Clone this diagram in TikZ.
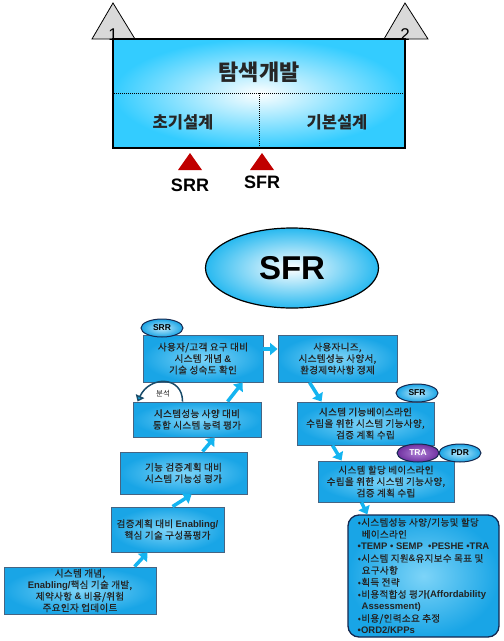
\documentclass[tikz,border=0pt]{standalone}
\usepackage{fontspec}
\setmainfont{Noto Sans CJK KR}
\newfontfamily\ar{Liberation Sans}
\newfontfamily\krs[LetterSpace=4,FakeBold=0.6]{Noto Sans CJK KR}
\usetikzlibrary{arrows.meta,shapes.geometric}
\definecolor{cyo}{RGB}{25,165,230}
\definecolor{cyi}{RGB}{125,212,248}
\definecolor{bord}{RGB}{70,100,130}
\definecolor{txt}{RGB}{35,35,35}
\definecolor{topc}{RGB}{51,204,255}
\definecolor{arr}{RGB}{20,180,240}
\definecolor{redt}{RGB}{192,0,0}
\definecolor{grayt}{RGB}{217,217,217}
\definecolor{navy}{RGB}{20,40,80}
\definecolor{purp}{RGB}{112,48,160}
\definecolor{purpi}{RGB}{175,130,215}
\definecolor{arcc}{RGB}{25,75,105}
\newcommand\en[1]{{\ar\bfseries #1}}
\tikzset{
  stepbox/.style={rectangle, draw=bord, line width=0.9pt, inner color=cyi, outer color=cyo,
    inner sep=0pt, align=center, font=\krs\fontsize{9.5}{11.5}\selectfont, text=txt},
  flow/.style={draw=arr, line width=3.5pt, -{Triangle[length=7.5pt,width=12pt]}},
  tag/.style={ellipse, draw=navy, line width=1pt, inner color=cyi!50!white, outer color=cyo,
    minimum width=42pt, minimum height=18pt, inner sep=0pt,
    font=\ar\bfseries\fontsize{8.5}{10}\selectfont, text=black},
  phase/.style={font=\bfseries\fontsize{16.5}{18}\selectfont, text=black!85},
  rev/.style={font=\ar\bfseries\fontsize{18}{20}\selectfont, text=black},
  dig/.style={font=\ar\fontsize{17}{17}\selectfont, anchor=base, text=black}
}
\begin{document}
\begin{tikzpicture}[x=1pt,y=-1pt]
\useasboundingbox (0,0) rectangle (504,641);
% ---- top section ----
\filldraw[fill=grayt, draw=black, line width=0.8pt] (92,39) -- (113,3) -- (135,39) -- cycle;
\filldraw[fill=grayt, draw=black, line width=0.8pt] (384,39) -- (405,3) -- (428,39) -- cycle;
\node[dig] (n1) at (113,40) {1};
\node[dig] (n2) at (405,40) {2};
\node[draw=black, line width=1.3pt, inner color=white, outer color=topc,
  minimum width=292pt, minimum height=109pt, inner sep=0pt] (tb) at (259,93.5) {};
\coordinate (hl) at ([yshift=-55pt]tb.north west);
\coordinate (hr) at ([yshift=-55pt]tb.north east);
\draw[black, line width=0.8pt, dash pattern=on 1pt off 1pt] (hl) -- (hr);
\draw[black, line width=0.8pt, dash pattern=on 1pt off 1pt] (tb.south |- hl) -- (tb.south);
\node[font=\bfseries\fontsize{22}{24}\selectfont, text=black!85] (t1) at (259,72) {탐색개발};
\node[phase] (t2) at (183,122) {초기설계};
\node[phase] (t3) at (337,122) {기본설계};
\fill[redt] (178,170) -- (190,153) -- (202,170) -- cycle;
\fill[redt] (250,170) -- (262,153) -- (274,170) -- cycle;
\node[rev] (srrl) at (190,185) {SRR};
\node[rev] (sfrl) at (262,182) {SFR};
% ---- big SFR ellipse ----
\node[ellipse, draw=black, line width=1.2pt, inner color=white, outer color={rgb,255:red,40;green,185;blue,240},
  minimum width=173pt, minimum height=80pt] (sfrbig) at (292,268)
  {\ar\bfseries\fontsize{33}{33}\selectfont SFR};
% ---- left column ----
\node[stepbox, minimum width=152pt, minimum height=47pt] (A) at (80,590.5)
  {시스템 개념,\\\en{Enabling/}핵심 기술 개발,\\제약사항 \en{\&} 비용/위험\\주요인자 업데이트};
\node[stepbox, minimum width=113pt, minimum height=45pt] (B) at (167.5,529.5)
  {검증계획 대비 \en{Enabling/}\\핵심 기술 구성품평가};
\node[stepbox, minimum width=127pt, minimum height=42pt] (C) at (183.5,473)
  {기능 검증계획 대비\\시스템 기능성 평가};
\node[stepbox, minimum width=128pt, minimum height=35pt] (D) at (197,419.5)
  {시스템성능 사양 대비\\통합 시스템 능력 평가};
\node[stepbox, minimum width=120pt, minimum height=47pt] (E) at (203,358.5)
  {사용자/고객 요구 대비\\시스템 개념 \en{\&}\\기술 성숙도 확인};
% ---- right column ----
\node[stepbox, minimum width=119pt, minimum height=47pt] (F) at (337.5,358.5)
  {사용자니즈,\\시스템성능 사양서,\\환경제약사항 정제};
\node[stepbox, minimum width=137pt, minimum height=43pt] (G) at (365.5,423.5)
  {시스템 기능베이스라인\\수립을 위한 시스템 기능사양,\\검증 계획 수립};
\node[stepbox, minimum width=136pt, minimum height=41pt] (H) at (386,481.5)
  {시스템 할당 베이스라인\\수립을 위한 시스템 기능사양,\\검증 계획 수립};
\node[stepbox, draw=navy, line width=1.3pt, rounded corners=11pt, align=left,
  font=\krs\fontsize{9.5}{12}\selectfont,
  minimum width=151pt, minimum height=122pt] (I) at (423.5,576)
  {•시스템성능 사양/기능및 할당\\\hspace*{4pt}베이스라인\\
   \en{•TEMP • SEMP \ •PESHE •TRA}\\
   •시스템 지원\en{\&}유지보수 목표 및\\\hspace*{4pt}요구사항\\
   •획득 전략\\
   •비용적합성 평가\en{(Affordability}\\\hspace*{4pt}\en{Assessment)}\\
   •비용/인력소요 추정\\
   \en{•ORD2/KPPs}};
% ---- tags ----
\node[tag] (srr) at (162,328) {SRR};
\node[tag] (sfr) at (417,393) {SFR};
\node[tag, draw=navy, inner color=purpi, outer color=purp, text=white] (tra) at (418,453) {TRA};
\node[tag] (pdr) at (460,453) {PDR};
% ---- flow arrows ----
\draw[flow] ([xshift=131pt]A.north west) -- ([xshift=37pt]B.south west);
\draw[flow] ([xshift=62pt]B.north west) -- ([xshift=72pt]C.south west);
\draw[flow] ([xshift=83pt]C.north west) -- ([xshift=82pt]D.south west);
\draw[flow] ([xshift=95pt]D.north west) -- ([xshift=100pt]E.south west);
\draw[flow] ([yshift=9.5pt]E.east) -- ([yshift=9.5pt]F.west);
\draw[flow] ([xshift=32pt]F.south west) -- ([xshift=25pt]G.north west);
\draw[flow] ([xshift=36pt]G.south west) -- ([xshift=24pt]H.north west);
\draw[flow] ([xshift=44pt]H.south west) -- ([xshift=20pt]I.north west);
% ---- analysis loop ----
\draw[arcc, line width=1.5pt, -{Triangle[length=6pt,width=9pt,fill=arr]}]
  ([xshift=50pt]D.north west) .. controls +(0,-26) and +(12,-26) .. ([xshift=5pt]D.north west);
\node[font=\fontsize{7.5}{8}\selectfont, text=txt] (bs) at (163,394) {분석};
\end{tikzpicture}
\end{document}
